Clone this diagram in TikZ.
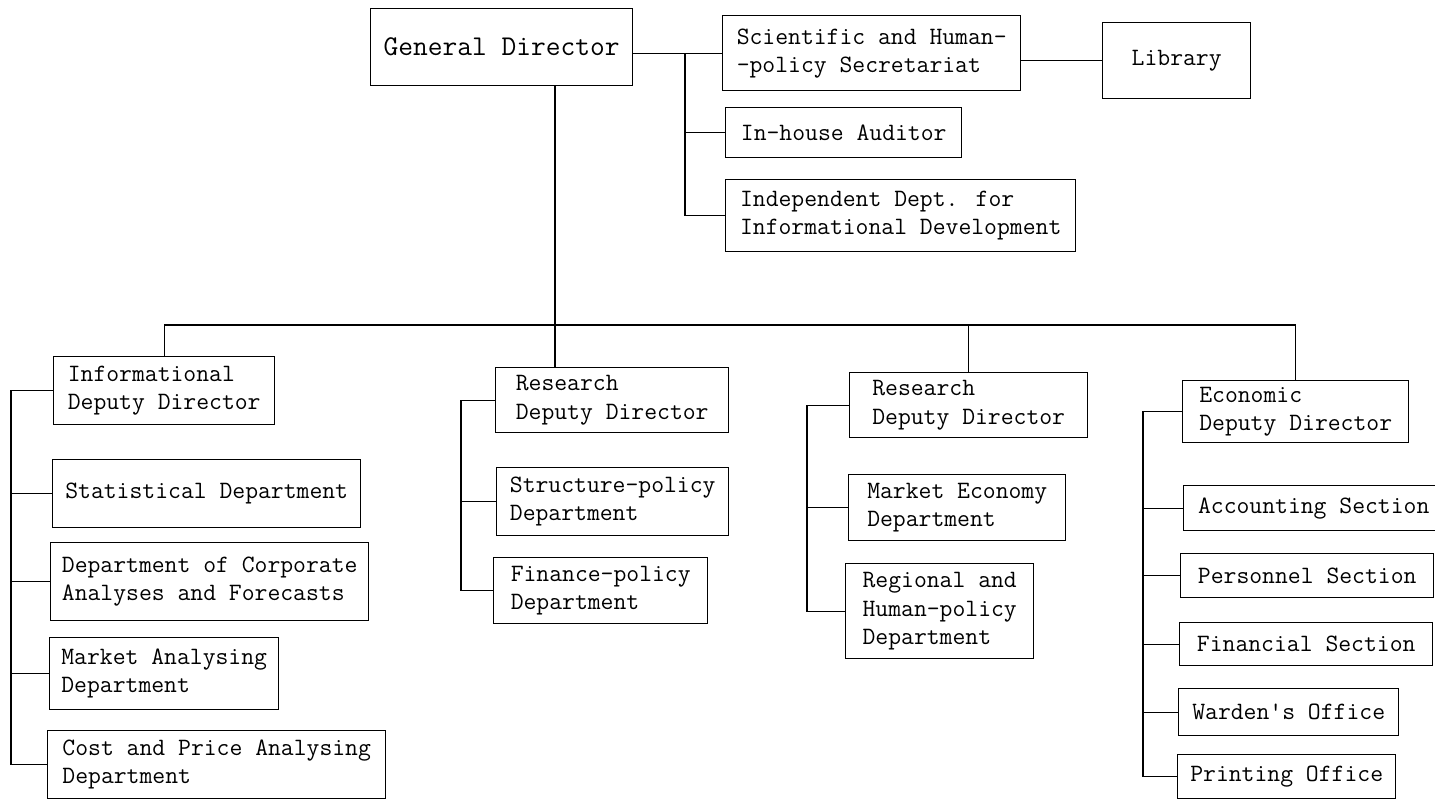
\documentclass[tikz,border=0pt]{standalone}
\usepackage{fontspec}
\newcommand{\boxfont}{\ttfamily\fontsize{14.2}{16}\selectfont}
\newcommand{\topfont}{\ttfamily\fontsize{16.3}{18}\selectfont}

\begin{document}
\begin{tikzpicture}[
    unitbox/.style={draw, line width=0.8pt, anchor=north west, align=left, inner sep=2pt, font=\boxfont},
    link/.style={line width=0.8pt}
  ]
  \useasboundingbox (0,0) rectangle (28.70,-16.02);

  % General director and staff units
  \node[unitbox, align=center, font=\topfont, minimum width=5.24cm, minimum height=1.54cm] (gd) at (7.40,-0.16) {General Director};
  \node[unitbox, minimum width=5.96cm, minimum height=1.50cm] (sci) at (14.44,-0.30) {Scientific and Human-\\-policy Secretariat};
  \node[unitbox, align=center, minimum width=2.96cm, minimum height=1.52cm] (lib) at (22.04,-0.44) {Library};
  \node[unitbox, minimum width=4.72cm, minimum height=1.00cm] (aud) at (14.50,-2.14) {In-house Auditor};
  \node[unitbox, minimum width=7.00cm, minimum height=1.44cm] (ind) at (14.50,-3.58) {Independent Dept. for\\Informational Development};

  % Informational branch
  \node[unitbox, minimum width=4.42cm, minimum height=1.36cm] (info) at (1.06,-7.12) {Informational\\Deputy Director};
  \node[unitbox, minimum width=6.16cm, minimum height=1.36cm] (stat) at (1.04,-9.18) {Statistical Department};
  \node[unitbox, minimum width=6.36cm, minimum height=1.56cm] (corp) at (1.00,-10.84) {Department of Corporate\\Analyses and Forecasts};
  \node[unitbox, minimum width=4.58cm, minimum height=1.44cm] (mkta) at (0.98,-12.74) {Market Analysing\\Department};
  \node[unitbox, minimum width=6.76cm, minimum height=1.36cm] (cost) at (0.94,-14.60) {Cost and Price Analysing\\Department};

  % First research branch
  \node[unitbox, minimum width=4.66cm, minimum height=1.30cm] (res1) at (9.90,-7.34) {Research\\Deputy Director};
  \node[unitbox, minimum width=4.64cm, minimum height=1.36cm] (strc) at (9.92,-9.34) {Structure-policy\\Department};
  \node[unitbox, minimum width=4.28cm, minimum height=1.32cm] (fin) at (9.86,-11.14) {Finance-policy\\Department};

  % Second research branch
  \node[unitbox, minimum width=4.76cm, minimum height=1.30cm] (res2) at (16.98,-7.44) {Research\\Deputy Director};
  \node[unitbox, minimum width=4.34cm, minimum height=1.32cm] (mkte) at (16.96,-9.48) {Market Economy\\Department};
  \node[unitbox, minimum width=3.76cm, minimum height=1.90cm] (regn) at (16.90,-11.26) {Regional and\\Human-policy\\Department};

  % Economic branch
  \node[unitbox, minimum width=4.52cm, minimum height=1.24cm] (eco) at (23.64,-7.60) {Economic\\Deputy Director};
  \node[unitbox, minimum width=5.20cm, minimum height=0.90cm] (acct) at (23.66,-9.70) {Accounting Section};
  \node[unitbox, minimum width=5.06cm, minimum height=0.88cm] (pers) at (23.60,-11.06) {Personnel Section};
  \node[unitbox, minimum width=5.06cm, minimum height=0.86cm] (finsec) at (23.58,-12.44) {Financial Section};
  \node[unitbox, minimum width=4.40cm, minimum height=0.94cm] (ward) at (23.56,-13.76) {Warden's Office};
  \node[unitbox, minimum width=4.36cm, minimum height=0.88cm] (prnt) at (23.54,-15.08) {Printing Office};

  % Trunk lines
  \coordinate (staff) at (13.70,0);
  \coordinate (spine) at (11.10,0);
  \coordinate (bus) at (0,-6.50);
  \coordinate (c1) at (0.22,0);
  \coordinate (c2) at (9.22,0);
  \coordinate (c3) at (16.14,0);
  \coordinate (c4) at (22.86,0);

  % Connectors
  \draw[link] (sci.west -| gd.east) -- (sci.west);
  \draw[link] (sci.west -| staff) |- (ind.west);
  \draw[link] (aud.west -| staff) -- (aud.west);
  \draw[link] (lib.west -| sci.east) -- (lib.west);
  \draw[link] (gd.south -| spine) -- (res1.north -| spine);
  \draw[link] (info.north |- bus) -- (eco.north |- bus);
  \foreach \n in {info,res2,eco}
    \draw[link] (\n.north |- bus) -- (\n.north);

  \draw[link] (info.west) -- (info.west -| c1) |- (cost.west);
  \foreach \n in {stat,corp,mkta}
    \draw[link] (\n.west) -- (\n.west -| c1);
  \draw[link] (res1.west) -- (res1.west -| c2) |- (fin.west);
  \draw[link] (strc.west) -- (strc.west -| c2);
  \draw[link] (res2.west) -- (res2.west -| c3) |- (regn.west);
  \draw[link] (mkte.west) -- (mkte.west -| c3);
  \draw[link] (eco.west) -- (eco.west -| c4) |- (prnt.west);
  \foreach \n in {acct,pers,finsec,ward}
    \draw[link] (\n.west) -- (\n.west -| c4);
\end{tikzpicture}
\end{document}
